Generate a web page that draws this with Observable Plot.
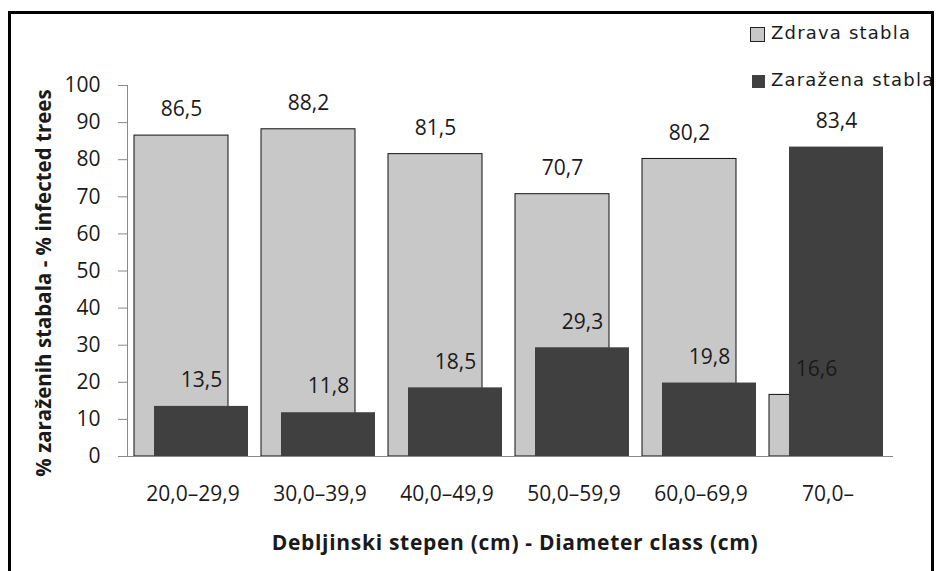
<!DOCTYPE html>
<html>
<head>
<meta charset="utf-8">
<script src="https://cdn.jsdelivr.net/npm/d3@7"></script>
<script src="https://cdn.jsdelivr.net/npm/@observablehq/plot@0.6"></script>
<style>
  html, body { margin: 0; padding: 0; background: #fff; }
  #wrap { position: relative; width: 936px; height: 571px; overflow: hidden; }
  #frame { position: absolute; left: 8px; top: 11px; width: 926px; height: 600px; border: 3px solid #000; box-sizing: border-box; }
  #chart { position: absolute; left: 0; top: 0; }
  .leg { position: absolute; font-family: "DejaVu Sans", sans-serif; font-size: 18px; letter-spacing: 1.2px; color: #1a1a1a; white-space: nowrap; line-height: 1; }
  .sw { position: absolute; box-sizing: border-box; }
</style>
</head>
<body>
<div id="wrap">
  <div id="chart"></div>
  <div class="sw" style="left:750px;top:27px;width:15px;height:15px;background:#c8c8c8;border:1px solid #222;"></div>
  <div class="leg" style="left:771px;top:24px;">Zdrava stabla</div>
  <div class="sw" style="left:752px;top:75px;width:13px;height:13px;background:#404040;"></div>
  <div class="leg" style="left:771px;top:71px;">Zaražena stabla</div>
  <div id="frame"></div>
</div>
<script>
const categories = ["20,0–29,9", "30,0–39,9", "40,0–49,9", "50,0–59,9", "60,0–69,9", "70,0–"];
const healthy = [86.5, 88.2, 81.5, 70.7, 80.2, 16.6];
const infected = [13.5, 11.8, 18.5, 29.3, 19.8, 83.4];
const yTicks = [0, 10, 20, 30, 40, 50, 60, 70, 80, 90, 100];
const seriesNames = ["Zdrava stabla", "Zaražena stabla"];
const yTitle = "% zaraženih stabala - % infected trees";
const xTitle = "Debljinski stepen (cm) - Diameter class (cm)";

const healthyData = categories.map((c, i) => ({cat: c, value: healthy[i], series: seriesNames[0]}));
const infectedData = categories.map((c, i) => ({cat: c, value: infected[i], series: seriesNames[1]}));
const fmt = v => d3.format(".1f")(v).replace(".", ",");

const numFont = "Open Sans, sans-serif";

const chart = Plot.plot({
  width: 936,
  height: 571,
  marginLeft: 127,
  marginRight: 43,
  marginTop: 85,
  marginBottom: 115,
  style: {fontFamily: numFont, fontSize: "21px", color: "#1a1a1a", background: "transparent"},
  x: {type: "band", domain: categories, padding: 0, label: null},
  y: {domain: [0, 100], label: null},
  marks: [
    Plot.barY(healthyData, {x: "cat", y: "value", fill: "#c8c8c8", stroke: "#111", strokeWidth: 1, insetLeft: 5, insetRight: 28}),
    Plot.barY(infectedData, {x: "cat", y: "value", fill: "#404040", insetLeft: 25, insetRight: 8}),
    Plot.text(healthyData, {x: "cat", y: "value", text: d => fmt(d.value), dx: -11.5, dy: -26, fontSize: 21, fill: "#1a1a1a"}),
    Plot.text(infectedData, {x: "cat", y: "value", text: d => fmt(d.value), dx: 8.5, dy: -26, fontSize: 21, fill: "#1a1a1a"}),
    Plot.frame({anchor: "left", stroke: "#888"}),
    Plot.ruleY([0], {stroke: "#888"}),
    Plot.axisY({ticks: yTicks, tickSize: 9, tickPadding: 18, stroke: "#888", fontSize: 21, label: null, tickFormat: d => String(d)}),
    Plot.axisX({tickSize: 0, tickPadding: 30, fontSize: 21, label: null})
  ]
});
document.getElementById("chart").appendChild(chart);

const svg = d3.select(chart);
svg.append("text")
  .attr("transform", "translate(51,283) rotate(-90)")
  .attr("text-anchor", "middle")
  .attr("font-family", "Open Sans, sans-serif")
  .attr("font-weight", "bold")
  .attr("font-size", 20.5)
  .attr("fill", "#1a1a1a")
  .text(yTitle);
svg.append("text")
  .attr("x", 515)
  .attr("y", 550)
  .attr("text-anchor", "middle")
  .attr("font-family", "Open Sans, sans-serif")
  .attr("font-weight", "bold")
  .attr("font-size", 21)
  .attr("letter-spacing", 0.7)
  .attr("fill", "#1a1a1a")
  .text(xTitle);
</script>
</body>
</html>
